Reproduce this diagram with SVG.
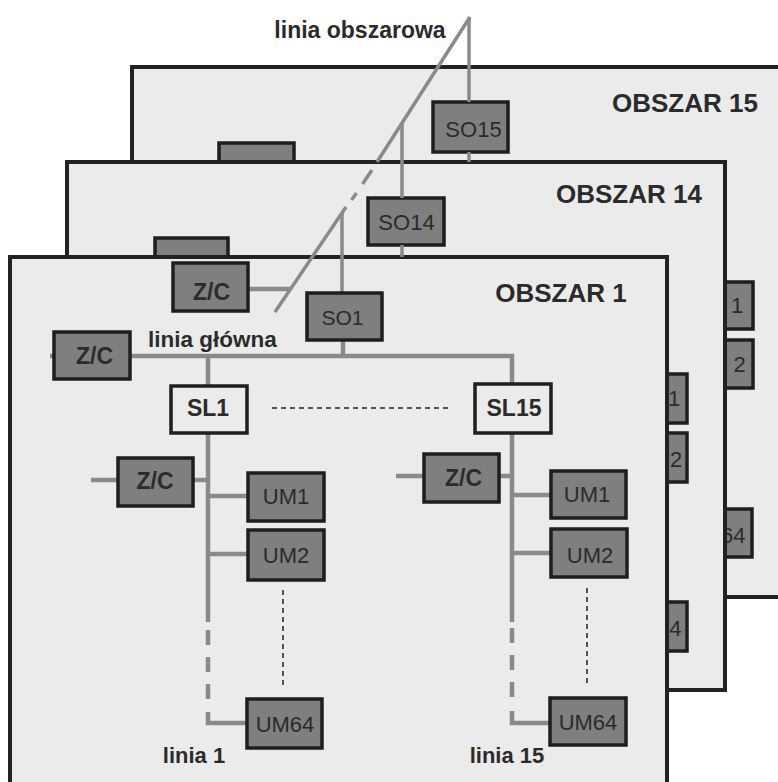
<svg xmlns="http://www.w3.org/2000/svg" width="778" height="782" viewBox="0 0 778 782">
<defs>
<style>
.panel{fill:#ebebeb;stroke:#222;stroke-width:4}
.box{fill:#7f7f7f;stroke:#1e1e1e;stroke-width:3.5}
.lbox{fill:#ebebeb;stroke:#1e1e1e;stroke-width:3.5}
.t{font-family:"Liberation Sans",Arial,sans-serif;fill:#2b2b2b}
.b{font-weight:bold}
.r{font-weight:normal}
.c{stroke:#8a8a8a;fill:none;stroke-width:4.5}
.d{stroke:#8a8a8a;fill:none;stroke-width:3.5}
.dot{stroke:#222;fill:none;stroke-width:1.5;stroke-dasharray:5 4}
</style>
</defs>
<rect width="778" height="782" fill="#fff"/>

<g id="obszar15">
<rect class="panel" x="132" y="67" width="700" height="530"/>
<text class="t b" x="685" y="112" font-size="26" text-anchor="middle">OBSZAR 15</text>
</g>
<g id="tab15"><rect class="box" x="219" y="143" width="75" height="40"/></g>
<g id="so15"><rect class="box" x="433" y="102" width="75" height="50"/><text class="t r" x="473.5" y="137" font-size="22" text-anchor="middle">SO15</text></g>
<g id="um1-15"><rect class="box" x="680" y="282" width="73" height="47"/><text class="t r" x="731" y="313" font-size="22">1</text></g>
<g id="um2-15"><rect class="box" x="680" y="340" width="73" height="48"/><text class="t r" x="733.5" y="372" font-size="22">2</text></g>
<g id="um64-15"><rect class="box" x="680" y="509" width="72" height="48"/><text class="t r" x="721" y="543" font-size="22">64</text></g>

<g id="obszar14">
<rect class="panel" x="67" y="162" width="658" height="528"/>
<text class="t b" x="629" y="203" font-size="26" text-anchor="middle">OBSZAR 14</text>
</g>
<g id="tab14"><rect class="box" x="155" y="238" width="73" height="40"/></g>
<g id="so14"><rect class="box" x="368" y="198" width="76" height="47"/><text class="t r" x="406.5" y="230" font-size="22" text-anchor="middle">SO14</text></g>
<g id="um1-14"><rect class="box" x="612" y="374" width="75" height="49"/><text class="t r" x="668" y="406" font-size="22">1</text></g>
<g id="um2-14"><rect class="box" x="612" y="433" width="75" height="49"/><text class="t r" x="670" y="467" font-size="22">2</text></g>
<g id="um64-14"><rect class="box" x="612" y="602" width="75" height="49"/><text class="t r" x="657" y="636" font-size="22">64</text></g>

<g id="obszar1">
<rect class="panel" x="10" y="257" width="657" height="600"/>
<text class="t b" x="561" y="302" font-size="26" text-anchor="middle">OBSZAR 1</text>
</g>

<g id="connectors">
<polyline class="d" points="470,17 377,162"/>
<line class="d" x1="372" y1="170" x2="362.5" y2="184"/>
<line class="d" x1="356.5" y1="193" x2="351.5" y2="200"/>
<polyline class="d" points="346,207 275,312"/>
<line class="d" x1="469" y1="19" x2="469" y2="102"/>
<line class="d" x1="469" y1="152" x2="469" y2="162"/>
<line class="d" x1="402" y1="123" x2="402" y2="198"/>
<line class="d" x1="402" y1="245" x2="402" y2="257"/>
<line class="d" x1="342" y1="213" x2="342" y2="293"/>
<line class="c" x1="248" y1="289" x2="291" y2="289"/>
<line class="c" x1="343" y1="340" x2="343" y2="356"/>
<polyline class="c" points="50,356 54,356"/>
<polyline class="c" points="130,356 512,356 512,384"/>
<line class="c" x1="208" y1="356" x2="208" y2="386"/>
<line class="dot" x1="272" y1="408" x2="451" y2="408" stroke-dasharray="7 5"/>
<line class="c" x1="208" y1="433" x2="208" y2="622"/>
<line class="c" x1="91" y1="480" x2="118" y2="480"/>
<line class="c" x1="193" y1="480" x2="208" y2="480"/>
<line class="c" x1="208" y1="496" x2="248" y2="496"/>
<line class="c" x1="208" y1="554" x2="248" y2="554"/>
<line class="c" x1="208" y1="630" x2="208" y2="699" stroke-dasharray="15 12"/>
<polyline class="c" points="208,712 208,723 247,723"/>
<line class="dot" x1="283" y1="590" x2="283" y2="688"/>
<line class="c" x1="512" y1="433" x2="512" y2="622"/>
<line class="c" x1="396" y1="476" x2="424" y2="476"/>
<line class="c" x1="499" y1="476" x2="512" y2="476"/>
<line class="c" x1="512" y1="495" x2="551" y2="495"/>
<line class="c" x1="512" y1="553" x2="551" y2="553"/>
<line class="c" x1="512" y1="628" x2="512" y2="698" stroke-dasharray="15 12"/>
<polyline class="c" points="512,711 512,723 550,723"/>
<line class="dot" x1="587" y1="588" x2="587" y2="685"/>
</g>

<g id="labels">
<text class="t b" x="360" y="38" font-size="23" text-anchor="middle">linia obszarowa</text>
<text class="t b" x="212.5" y="347" font-size="22.5" text-anchor="middle">linia główna</text>
<text class="t b" x="194" y="763" font-size="22" text-anchor="middle">linia 1</text>
<text class="t b" x="507" y="763" font-size="22" text-anchor="middle">linia 15</text>
</g>

<g id="zc-top"><rect class="box" x="173" y="263" width="75" height="48"/><text class="t b" x="211.5" y="300" font-size="23" text-anchor="middle">Z/C</text></g>
<g id="so1"><rect class="box" x="307" y="293" width="75" height="47"/><text class="t r" x="342.5" y="325" font-size="21" text-anchor="middle">SO1</text></g>
<g id="zc-left"><rect class="box" x="54" y="332" width="76" height="47"/><text class="t b" x="94.5" y="364" font-size="23" text-anchor="middle">Z/C</text></g>
<g id="sl1"><rect class="lbox" x="171" y="386" width="76" height="47"/><text class="t b" x="208" y="416" font-size="23" text-anchor="middle">SL1</text></g>
<g id="sl15"><rect class="lbox" x="475" y="384" width="76" height="49"/><text class="t b" x="514" y="416" font-size="23" text-anchor="middle">SL15</text></g>
<g id="zc-l1"><rect class="box" x="118" y="458" width="75" height="48"/><text class="t b" x="155" y="489" font-size="23" text-anchor="middle">Z/C</text></g>
<g id="um1-l1"><rect class="box" x="248" y="473" width="76" height="48"/><text class="t r" x="286" y="504" font-size="22" text-anchor="middle">UM1</text></g>
<g id="um2-l1"><rect class="box" x="248" y="530" width="76" height="50"/><text class="t r" x="286" y="563" font-size="22" text-anchor="middle">UM2</text></g>
<g id="um64-l1"><rect class="box" x="247" y="699" width="75" height="49"/><text class="t r" x="285" y="732" font-size="22" text-anchor="middle">UM64</text></g>
<g id="zc-l15"><rect class="box" x="424" y="454" width="75" height="48"/><text class="t b" x="463.5" y="486" font-size="23" text-anchor="middle">Z/C</text></g>
<g id="um1-l15"><rect class="box" x="551" y="471" width="75" height="47"/><text class="t r" x="587" y="502" font-size="22" text-anchor="middle">UM1</text></g>
<g id="um2-l15"><rect class="box" x="551" y="529" width="76" height="48"/><text class="t r" x="590" y="563" font-size="22" text-anchor="middle">UM2</text></g>
<g id="um64-l15"><rect class="box" x="550" y="698" width="76" height="47"/><text class="t r" x="588" y="730" font-size="22" text-anchor="middle">UM64</text></g>
</svg>
